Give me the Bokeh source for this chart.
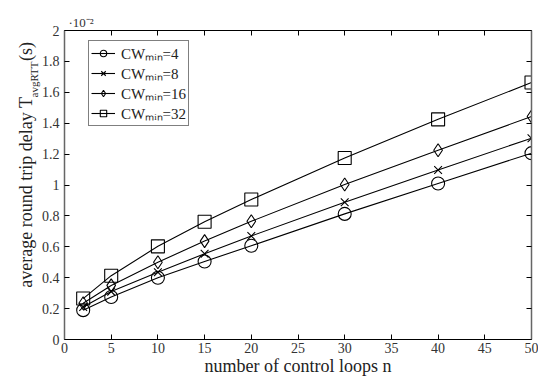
import math
from bokeh.plotting import figure
from bokeh.models import (FixedTicker, LinearAxis, Label, Legend, LegendItem,
                          CustomJSTickFormatter, Range1d, Title)
from bokeh.embed import file_html
from bokeh.resources import INLINE

# ---- data: average round trip delay, in units of 1e-2 s ----
n_loops = [2, 5, 10, 15, 20, 30, 40, 50]
cw4 = [0.19, 0.275, 0.40, 0.505, 0.607, 0.813, 1.01, 1.206]
cw8 = [0.21, 0.31, 0.435, 0.555, 0.67, 0.888, 1.097, 1.303]
cw16 = [0.235, 0.35, 0.50, 0.637, 0.765, 1.003, 1.225, 1.443]
cw32 = [0.265, 0.413, 0.603, 0.762, 0.906, 1.175, 1.425, 1.663]
series_labels = ["CW\u2098\u1d62\u2099=4", "CW\u2098\u1d62\u2099=8",
                 "CW\u2098\u1d62\u2099=16", "CW\u2098\u1d62\u2099=32"]
x_ticks = [0, 5, 10, 15, 20, 25, 30, 35, 40, 45, 50]
y_ticks = [0, 0.2, 0.4, 0.6, 0.8, 1, 1.2, 1.4, 1.6, 1.8, 2]

FONT = "Liberation Serif"
NB = "\u00a0"

p = figure(width=538, height=381, output_backend="svg", toolbar_location=None,
           x_range=Range1d(0, 50), y_range=Range1d(0, 2),
           min_border_left=63, min_border_right=7, min_border_top=30,
           min_border_bottom=42)
p.grid.visible = False
p.outline_line_color = None

def style_axis(ax, ticks, show_labels):
    ax.ticker = FixedTicker(ticks=ticks)
    ax.major_tick_in = 5
    ax.major_tick_out = 0
    ax.minor_tick_in = 0
    ax.minor_tick_out = 0
    ax.axis_line_color = "black"
    ax.major_tick_line_color = "black"
    if show_labels:
        ax.major_label_text_font = FONT
        ax.major_label_text_font_size = "14px"
        ax.major_label_text_color = "#333333"
        ax.formatter = CustomJSTickFormatter(code="return String(Math.round(tick*10)/10);")
    else:
        ax.formatter = CustomJSTickFormatter(code="return '';")
        ax.major_label_standoff = 0

xa = p.xaxis[0]
ya = p.yaxis[0]
style_axis(xa, x_ticks, True)
style_axis(ya, y_ticks, True)
xa.major_label_standoff = 3
ya.major_label_standoff = 5
xa.axis_label = "number of control loops n"
xa.axis_label_text_font = FONT
xa.axis_label_text_font_style = "normal"
xa.axis_label_text_font_size = "18px"
xa.axis_label_text_color = "#222222"
xa.axis_label_standoff = 0
ya.axis_line_color = "#666666"
ya.axis_line_width = 1.5
# main y label; the gap of no-break spaces leaves room for the subscript
ya.axis_label = NB * 9 + "average round trip delay T" + NB * 8 + "(s)"
ya.axis_label_text_font = FONT
ya.axis_label_text_font_style = "normal"
ya.axis_label_text_font_size = "18px"
ya.axis_label_text_color = "#222222"
ya.axis_label_standoff = 3

top = LinearAxis()
style_axis(top, x_ticks, False)
p.add_layout(top, "above")
right = LinearAxis()
style_axis(right, y_ticks, False)
right.axis_line_color = "#666666"
right.axis_line_width = 1.5
p.add_layout(right, "right")

markers = ["circle", "x", "diamond", "square"]
sizes = [13, 11, 13, 13]
items = []
for ys, m, s, lab in zip([cw4, cw8, cw16, cw32], markers, sizes, series_labels):
    r1 = p.line(n_loops, ys, line_color="black", line_width=1.1)
    r2 = p.scatter(n_loops, ys, marker=m, size=s, line_color="black",
                   fill_color=None, line_width=1.1)
    items.append(LegendItem(label=lab, renderers=[r1, r2]))

leg = Legend(items=items, location=(24, 213))
leg.border_line_color = "black"
leg.label_text_font = FONT
leg.label_text_font_size = "15px"
leg.label_text_color = "#222222"
leg.glyph_width = 24
leg.glyph_height = 16
leg.label_height = 16
leg.spacing = 0
leg.padding = 2
leg.margin = 0
leg.label_standoff = 6
p.add_layout(leg, "center")

# subscript of T in the y label
ylab_sub = Label(x=33, y=242, x_units="screen", y_units="screen",
                 text="avgRTT", angle=math.pi / 2,
                 text_font=FONT, text_font_size="11px",
                 text_color="#222222", text_align="left", text_baseline="middle")
p.add_layout(ylab_sub, "left")

scale = Title(text="\u00b710\u207b\u00b2", align="left", offset=4,
              text_font=FONT, text_font_size="13px", text_color="#333333",
              text_font_style="normal", standoff=2)
p.add_layout(scale, "above")

open("out.html", "w").write(file_html(p, INLINE))
